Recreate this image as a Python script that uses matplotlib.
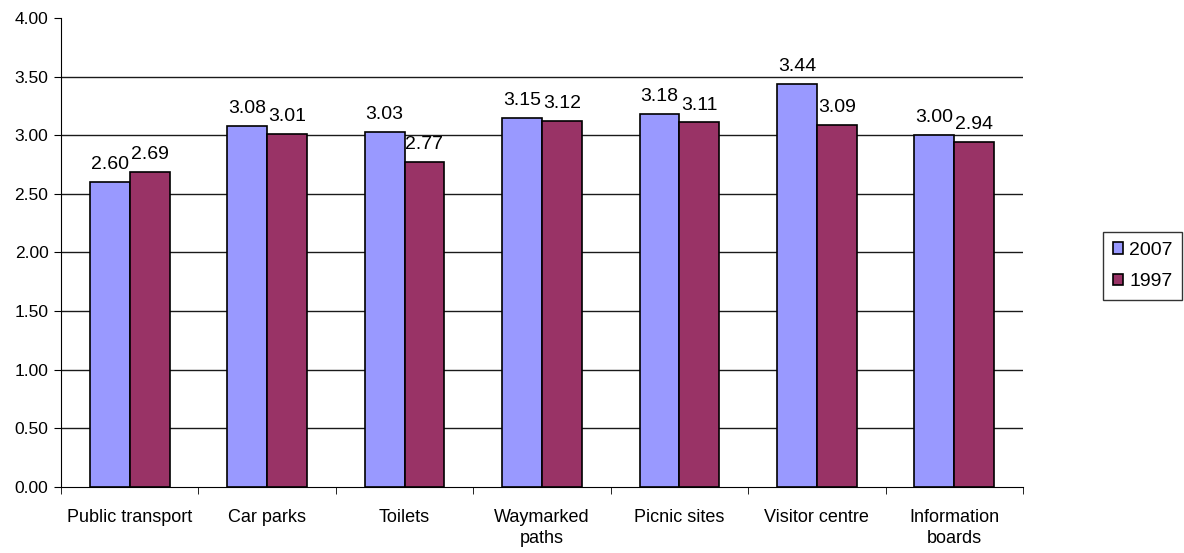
import matplotlib
matplotlib.use("Agg")
import matplotlib.pyplot as plt
import numpy as np

plt.rcParams['font.family'] = ['Liberation Sans', 'DejaVu Sans']

categories = ["Public transport", "Car parks", "Toilets", "Waymarked\npaths",
              "Picnic sites", "Visitor centre", "Information\nboards"]
values_2007 = [2.60, 3.08, 3.03, 3.15, 3.18, 3.44, 3.00]
values_1997 = [2.69, 3.01, 2.77, 3.12, 3.11, 3.09, 2.94]
series_labels = ["2007", "1997"]
yticks = [0.0, 0.5, 1.0, 1.5, 2.0, 2.5, 3.0, 3.5, 4.0]

fig = plt.figure(figsize=(11.84, 5.53), dpi=100)
ax = fig.add_axes([0.0515, 0.1193, 0.8125, 0.8482])

x = np.arange(len(categories))
w = 0.29
b1 = ax.bar(x - w / 2, values_2007, w, color="#9999FF", edgecolor="black",
            linewidth=1.2, label=series_labels[0], zorder=3)
b2 = ax.bar(x + w / 2, values_1997, w, color="#993366", edgecolor="black",
            linewidth=1.2, label=series_labels[1], zorder=3)

for bars, vals in ((b1, values_2007), (b2, values_1997)):
    for rect, v in zip(bars, vals):
        ax.text(rect.get_x() + rect.get_width() / 2, v + 0.075, f"{v:.2f}",
                ha="center", va="bottom", fontsize=14)

ax.set_xlim(-0.5, len(categories) - 0.5)
ax.set_ylim(0, 4.0)
ax.set_yticks(yticks)
ax.set_yticklabels([f"{t:.2f}" for t in yticks], fontsize=12.5)
for t in yticks[1:-1]:
    ax.axhline(t, color="#1a1a1a", linewidth=1.0, zorder=1)

ax.set_xticks(x)
ax.set_xticklabels(categories, fontsize=13, linespacing=1.3)
ax.tick_params(axis="x", length=0, pad=16)
ax.set_xticks(np.arange(-0.5, len(categories)), minor=True)
ax.tick_params(axis="x", which="minor", length=5, direction="out", color="black")
ax.tick_params(axis="y", length=5, direction="out", color="black", pad=4)

for side in ("top", "right"):
    ax.spines[side].set_visible(False)
ax.spines["left"].set_color("black")
ax.spines["bottom"].set_color("black")

leg = fig.legend(handles=[b1, b2], labels=series_labels, loc="upper left",
                 bbox_to_anchor=(1103 / 1184, 1 - 232 / 553), fontsize=14,
                 frameon=True, fancybox=False, edgecolor="black",
                 handlelength=0.55, handleheight=0.55, handletextpad=0.3,
                 borderpad=0.5, labelspacing=0.75, borderaxespad=0)
leg.get_frame().set_linewidth(1.0)

fig.savefig("out.png", dpi=100, facecolor="white")
